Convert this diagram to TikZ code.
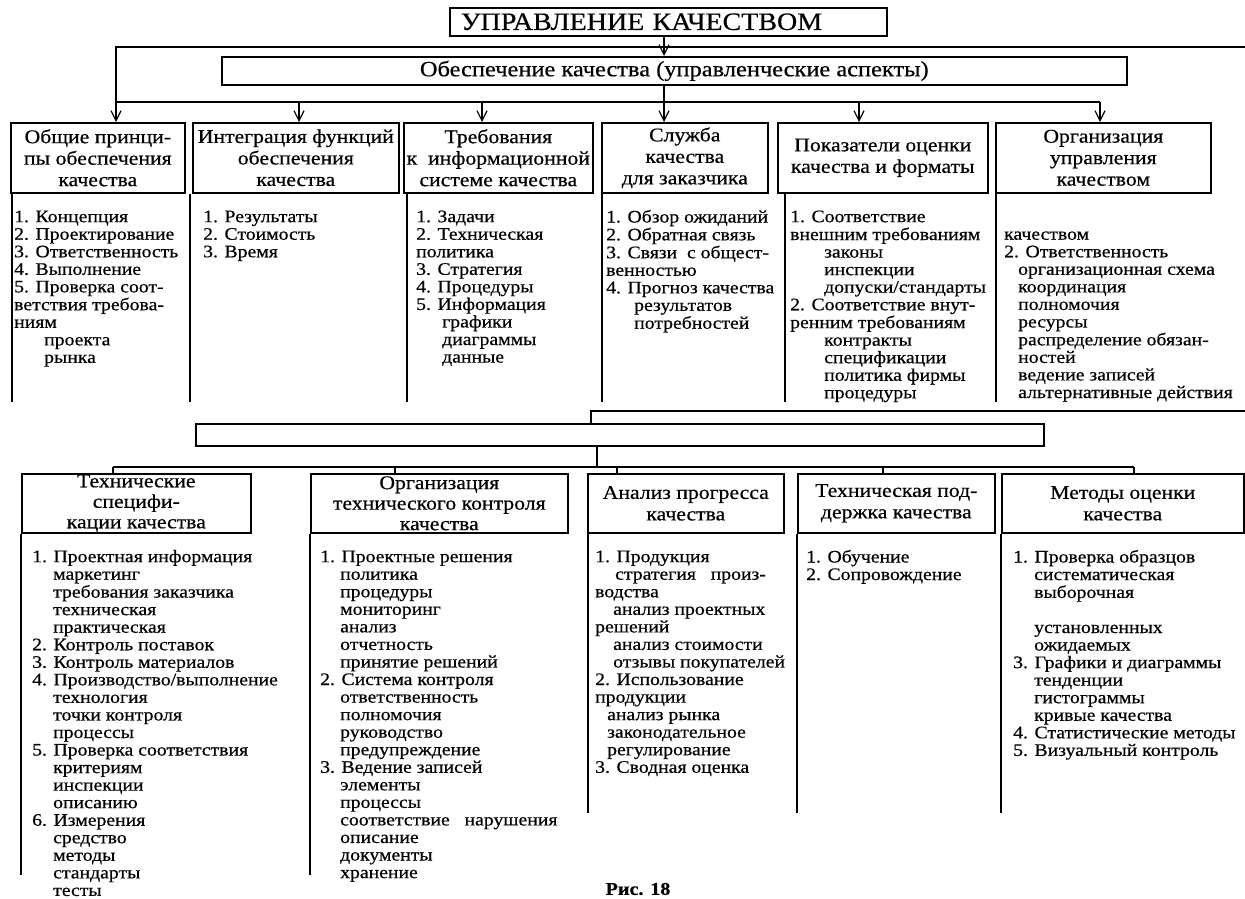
\documentclass[tikz,border=0pt]{standalone}
\usepackage{fontspec}
\setmainfont{Liberation Serif}[FakeStretch=1.12,FakeBold=0.5]
\usetikzlibrary{arrows.meta}
\newcommand\cfont{\fontsize{17.6}{17.55}\selectfont}
\newcommand\hfont{\fontsize{19.4}{21.5}\selectfont}
\newcommand\lst[1]{\begin{tabular}{@{}l@{}}#1\end{tabular}}
\newcommand\ind[1]{\hspace*{#1pt}}
\begin{document}
\begin{tikzpicture}[x=1pt,y=-1pt,
  box/.style={draw,line width=1.6pt,inner sep=0pt,anchor=north west,align=center,font=\hfont},
  ln/.style={line width=1.4pt},
  arr/.style={ln,-{Straight Barb[length=10pt,width=10pt,line width=1.2pt]}},
  txt/.style={inner sep=0pt,anchor=north west,font=\cfont}]
\useasboundingbox (0,0) rectangle (1245,899);
\fill[white] (0,0) rectangle (1245,899);

% top part
\node[box,minimum width=437pt,minimum height=28pt,text width=415pt,inner xsep=11pt,align=left,font=\fontsize{25}{25}\selectfont] (t) at (449,7) {УПРАВЛЕНИЕ КАЧЕСТВОМ};
\node[box,minimum width=905pt,minimum height=28pt,font=\fontsize{21.8}{22}\selectfont] (s) at (221,56) {Обеспечение качества (управленческие аспекты)};

\node[box,minimum width=174pt,minimum height=70pt] (h1) at (10,122) {Общие принци-\\пы обеспечения\\качества};
\node[box,minimum width=206pt,minimum height=70pt] (h2) at (192,122) {Интеграция функций\\обеспечения\\качества};
\node[box,minimum width=189pt,minimum height=70pt] (h3) at (403,122) {Требования\\к\ \ информационной\\системе качества};
\node[box,minimum width=166pt,minimum height=70pt] (h4) at (601,122) {Служба\\качества\\для заказчика};
\node[box,minimum width=210pt,minimum height=70pt] (h5) at (777,122) {Показатели оценки\\качества и форматы};
\node[box,minimum width=215pt,minimum height=70pt] (h6) at (995,122) {Организация\\управления\\качеством};

\coordinate (ax) at (664,0);
\coordinate (re) at (1245,47);
\coordinate (l1) at (116,47);
\coordinate (k1) at (116,102);
\coordinate (k2) at (299,102);
\coordinate (k3) at (482,102);
\coordinate (k5) at (859,102);
\coordinate (k6) at (1100,102);
\draw[arr] (t.south -| ax) -- (s.north -| ax);
\draw[arr] (re) -- (l1) -- (l1 |- h1.north);
\draw[ln] (k1) -- (k6);
\draw[arr] (s.south -| ax) -- (h4.north -| ax);
\draw[arr] (k2) -- (k2 |- h2.north);
\draw[arr] (k3) -- (k3 |- h3.north);
\draw[arr] (k5) -- (k5 |- h5.north);
\draw[arr] (k6) -- (k6 |- h6.north);

% top content rails
\draw[ln] (12,0 |- h1.south) -- (12,402);
\draw[ln] (190,0 |- h2.south) -- (190,402);
\draw[ln] (407,0 |- h3.south) -- (407,402);
\draw[ln] (602,0 |- h4.south) -- (602,402);
\draw[ln] (785,0 |- h5.south) -- (785,402);
\draw[ln] (996,0 |- h6.south) -- (996,402);

\node[txt] (c1) at (14,209.7) {\lst{1. Концепция\\2. Проектирование\\3. Ответственность\\4. Выполнение\\5. Проверка соот-\\ветствия требова-\\ниям\\\ind{30}проекта\\\ind{30}рынка}};
\node[txt] (c2) at (203,209.7) {\lst{1. Результаты\\2. Стоимость\\3. Время}};
\node[txt] (c3) at (416,209.7) {\lst{1. Задачи\\2. Техническая\\политика\\3. Стратегия\\4. Процедуры\\5. Информация\\\ind{26}графики\\\ind{26}диаграммы\\\ind{26}данные}};
\node[txt] (c4) at (606,209.7) {\lst{1. Обзор ожиданий\\2. Обратная связь\\3. Связи\ \ с общест-\\венностью\\4. Прогноз качества\\\ind{28}результатов\\\ind{28}потребностей}};
\node[txt] (c5) at (790,209.7) {\lst{1. Соответствие\\внешним требованиям\\\ind{34}законы\\\ind{34}инспекции\\\ind{34}допуски/стандарты\\2. Соответствие внут-\\ренним требованиям\\\ind{34}контракты\\\ind{34}спецификации\\\ind{34}политика фирмы\\\ind{34}процедуры}};
\node[txt] (c6) at (1004,209.7) {\lst{\mbox{}\\качеством\\2. Ответственность\\\ind{14}организационная схема\\\ind{14}координация\\\ind{14}полномочия\\\ind{14}ресурсы\\\ind{14}распределение обязан-\\\ind{14}ностей\\\ind{14}ведение записей\\\ind{14}альтернативные действия}};

% bottom part
\node[box,minimum width=848pt,minimum height=22pt] (e) at (195,423) {};
\coordinate (r2) at (1245,411);
\coordinate (m2) at (591,411);
\coordinate (j) at (597,467);
\coordinate (q1) at (113,467);
\coordinate (q2) at (395,467);
\coordinate (q3) at (617,467);
\coordinate (q4) at (883,467);
\coordinate (q5) at (1134,467);
\draw[ln] (r2) -- (m2) -- (m2 |- e.north);
\draw[ln] (e.south -| j) -- (j);
\draw[ln] (q1) -- (q5);

\node[box,minimum width=229pt,minimum height=59pt,font=\fontsize{19.4}{20.5}\selectfont] (b1) at (21,473) {Технические\\специфи-\\кации качества};
\node[box,minimum width=257pt,minimum height=59pt,font=\fontsize{19.4}{20.5}\selectfont] (b2) at (310,473) {Организация\\технического контроля\\качества};
\node[box,minimum width=196pt,minimum height=59pt] (b3) at (587,473) {Анализ прогресса\\качества};
\node[box,minimum width=197pt,minimum height=59pt] (b4) at (797,473) {Техническая под-\\держка качества};
\node[box,minimum width=242pt,minimum height=59pt] (b5) at (1001,473) {Методы оценки\\качества};

\draw[ln] (q1) -- (q1 |- b1.north);
\draw[ln] (q2) -- (q2 |- b2.north);
\draw[ln] (q3) -- (q3 |- b3.north);
\draw[ln] (q4) -- (q4 |- b4.north);
\draw[ln] (q5) -- (q5 |- b5.north);

\draw[ln] (21,0 |- b1.south) -- (21,875);
\draw[ln] (310,0 |- b2.south) -- (310,875);
\draw[ln] (588,0 |- b3.south) -- (588,813);
\draw[ln] (797,0 |- b4.south) -- (797,813);
\draw[ln] (1001,0 |- b5.south) -- (1001,813);

\node[txt] (d1) at (32,549.7) {\lst{1. Проектная информация\\\ind{21}маркетинг\\\ind{21}требования заказчика\\\ind{21}техническая\\\ind{21}практическая\\2. Контроль поставок\\3. Контроль материалов\\4. Производство/выполнение\\\ind{21}технология\\\ind{21}точки контроля\\\ind{21}процессы\\5. Проверка соответствия\\\ind{21}критериям\\\ind{21}инспекции\\\ind{21}описанию\\6. Измерения\\\ind{21}средство\\\ind{21}методы\\\ind{21}стандарты\\\ind{21}тесты}};
\node[txt] (d2) at (320,549.7) {\lst{1. Проектные решения\\\ind{20}политика\\\ind{20}процедуры\\\ind{20}мониторинг\\\ind{20}анализ\\\ind{20}отчетность\\\ind{20}принятие решений\\2. Система контроля\\\ind{20}ответственность\\\ind{20}полномочия\\\ind{20}руководство\\\ind{20}предупреждение\\3. Ведение записей\\\ind{20}элементы\\\ind{20}процессы\\\ind{20}соответствие\ \ \ нарушения\\\ind{20}описание\\\ind{20}документы\\\ind{20}хранение}};
\node[txt] (d3) at (595,549.7) {\lst{1. Продукция\\\ind{20}стратегия\ \ \ произ-\\водства\\\ind{18}анализ проектных\\решений\\\ind{18}анализ стоимости\\\ind{18}отзывы покупателей\\2. Использование\\продукции\\\ind{12}анализ рынка\\\ind{12}законодательное\\\ind{12}регулирование\\3. Сводная оценка}};
\node[txt] (d4) at (806,549.7) {\lst{1. Обучение\\2. Сопровождение}};
\node[txt] (d5) at (1013,549.7) {\lst{1. Проверка образцов\\\ind{21}систематическая\\\ind{21}выборочная\\\mbox{}\\\ind{21}установленных\\\ind{21}ожидаемых\\3. Графики и диаграммы\\\ind{21}тенденции\\\ind{21}гистограммы\\\ind{21}кривые качества\\4. Статистические методы\\5. Визуальный контроль}};

\node[inner sep=0pt,font=\bfseries\fontsize{18}{18}\selectfont] (cap) at (638,889) {Рис. 18};
\end{tikzpicture}
\end{document}
